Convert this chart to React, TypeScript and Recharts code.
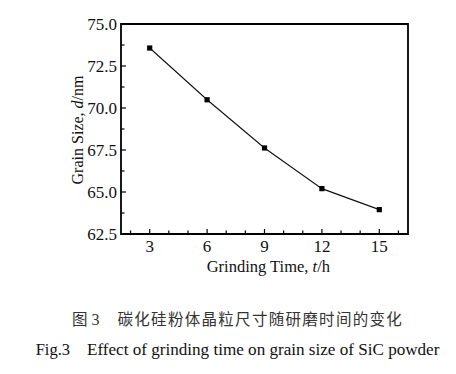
import React from 'react';
import { LineChart, Line, XAxis, YAxis, ReferenceArea } from 'recharts';

const grindingTime = [3, 6, 9, 12, 15];
const grainSize = [73.57, 70.49, 67.62, 65.2, 63.95];
const xTicks = [2, 3, 4, 5, 6, 7, 8, 9, 10, 11, 12, 13, 14, 15, 16];
const xMajorTicks = [3, 6, 9, 12, 15];
const yTicks = [62.5, 63.75, 65, 66.25, 67.5, 68.75, 70, 71.25, 72.5, 73.75, 75];
const yMajorTicks = [62.5, 65, 67.5, 70, 72.5, 75];
const xTitle = 'Grinding Time, ';
const yTitle = 'Grain Size, ';
const captionCnPrefix = '图';
const captionCnNumber = '3';
const captionCn = '碳化硅粉体晶粒尺寸随研磨时间的变化';
const captionEnPrefix = 'Fig.3';
const captionEn = 'Effect of grinding time on grain size of SiC powder';

const data = grindingTime.map((t, i) => ({ t, d: grainSize[i] }));

const SERIF = "'Liberation Serif', 'DejaVu Serif', serif";
const CJK = "'Noto Sans CJK SC', sans-serif";

const XTick = (props: any) => {
  const { x, y, payload } = props;
  const major = xMajorTicks.includes(payload.value);
  return (
    <g>
      <line x1={x} x2={x} y1={y} y2={y - (major ? 5 : 3.5)} stroke="#000" strokeWidth={1.2} />
      {major && (
        <text x={x} y={y + 17.5} textAnchor="middle" style={{ fontFamily: SERIF, fontSize: 17 }} fill="#111">
          {payload.value}
        </text>
      )}
    </g>
  );
};

const YTick = (props: any) => {
  const { x, y, payload } = props;
  const major = yMajorTicks.includes(payload.value);
  return (
    <g>
      <line x1={x} x2={x + (major ? 5 : 3.5)} y1={y} y2={y} stroke="#000" strokeWidth={1.2} />
      {major && (
        <text x={x - 4} y={y + 5.8} textAnchor="end" style={{ fontFamily: SERIF, fontSize: 17 }} fill="#111">
          {payload.value.toFixed(1)}
        </text>
      )}
    </g>
  );
};

const SquareDot = (props: any) => {
  const { cx, cy } = props;
  if (cx == null || cy == null) return null;
  return <rect x={cx - 2.6} y={cy - 2.6} width={5.2} height={5.2} fill="#000" />;
};

export default function App() {
  return (
    <div style={{ position: 'relative', width: 440, height: 358, fontFamily: SERIF }}>
      <LineChart
        width={440}
        height={262}
        data={data}
        margin={{ top: 16, right: 40, bottom: 0, left: 0 }}
        style={{ fontFamily: SERIF }}
      >
        <XAxis
          dataKey="t"
          type="number"
          domain={[1.5, 16.5]}
          ticks={xTicks}
          interval={0}
          tickSize={0}
          tickMargin={0}
          tickLine={false}
          axisLine={false}
          tick={<XTick />}
          height={36}
        />
        <YAxis
          type="number"
          domain={[62.5, 75]}
          ticks={yTicks}
          interval={0}
          tickSize={0}
          tickMargin={0}
          tickLine={false}
          axisLine={false}
          tick={<YTick />}
          width={113}
        />
        <ReferenceArea
          x1={1.5}
          x2={16.5}
          y1={62.5}
          y2={75}
          fill="none"
          fillOpacity={0}
          stroke="#000"
          strokeWidth={1.8}
          ifOverflow="visible"
        />
        <Line
          dataKey="d"
          stroke="#111"
          strokeWidth={1.1}
          dot={<SquareDot />}
          activeDot={false}
          isAnimationActive={false}
        />
      </LineChart>
      <svg
        width={440}
        height={358}
        style={{ position: 'absolute', left: 0, top: 0, pointerEvents: 'none' }}
      >
        <text
          x={74.5}
          y={122}
          textAnchor="middle"
          style={{ fontFamily: SERIF, fontSize: 16 }}
          fill="#111"
          transform="rotate(-90, 74.5, 122)"
        >
          {yTitle}
          <tspan fontStyle="italic">d</tspan>/nm
        </text>
        <text x={198.7} y={263.5} textAnchor="start" style={{ fontFamily: SERIF, fontSize: 16.5 }} fill="#111">
          {xTitle}
          <tspan fontStyle="italic">t</tspan>/h
        </text>
        <text x={64} y={317} style={{ fontFamily: CJK, fontSize: 15.5 }} fill="#333">
          {captionCnPrefix}
        </text>
        <text x={83.5} y={317} style={{ fontFamily: SERIF, fontSize: 16 }} fill="#333">
          {captionCnNumber}
        </text>
        <text
          x={109.5}
          y={317}
          style={{ fontFamily: CJK, fontSize: 15.5, letterSpacing: 1.3 }}
          fill="#333"
        >
          {captionCn}
        </text>
        <text x={27.7} y={347} style={{ fontFamily: SERIF, fontSize: 16.5 }} fill="#111">
          {captionEnPrefix}
        </text>
        <text x={79} y={347} style={{ fontFamily: SERIF, fontSize: 17.1 }} fill="#111">
          {captionEn}
        </text>
      </svg>
    </div>
  );
}
